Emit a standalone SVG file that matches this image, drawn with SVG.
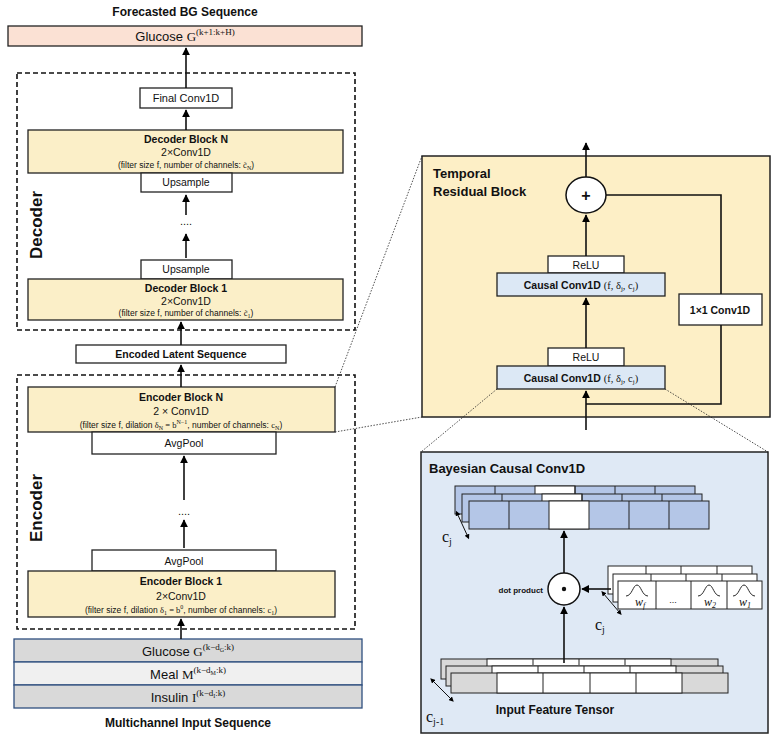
<svg xmlns="http://www.w3.org/2000/svg" width="777" height="737" viewBox="0 0 777 737">
<defs>
<marker id="ah" viewBox="0 0 10 10" refX="9" refY="5" markerWidth="5" markerHeight="5" orient="auto"><path d="M0,0 L10,5 L0,10 z" fill="#000"/></marker>
<marker id="ah2" viewBox="0 0 10 10" refX="5" refY="5" markerWidth="5" markerHeight="5" orient="auto-start-reverse"><path d="M0,0 L10,5 L0,10 z" fill="#000"/></marker>
</defs>
<style>
text{font-family:"Liberation Sans",Arial,sans-serif;fill:#111}
.b{font-weight:bold}
.m{font-family:"Liberation Serif","DejaVu Serif",serif}
.box{fill:#fff;stroke:#222;stroke-width:1.3}
.yel{fill:#fbefc8;stroke:#222;stroke-width:1.3}
.blu{fill:#dce8f5;stroke:#222;stroke-width:1.3}
.dash{fill:none;stroke:#111;stroke-width:1.6;stroke-dasharray:5,3}
.dot{fill:none;stroke:#222;stroke-width:0.8;stroke-dasharray:1.5,1.5}
.ln{fill:none;stroke:#111;stroke-width:1.6}
.ar{fill:none;stroke:#111;stroke-width:1.6;marker-end:url(#ah)}
.cell{stroke:#222;stroke-width:1}
</style>

<text x="185" y="16" class="b" font-size="12" text-anchor="middle">Forecasted BG Sequence</text>
<g id="output"><rect x="8" y="26" width="354" height="20" fill="#fbe1d4" stroke="#222" stroke-width="1.3"/>
<text x="185" y="41" font-size="13" text-anchor="middle">Glucose <tspan class="m">G</tspan><tspan class="m" font-size="9" dy="-6">(k+1:k+H)</tspan></text></g>

<rect x="17" y="73" width="338" height="257" class="dash"/>
<text transform="translate(42,225) rotate(-90)" class="b" font-size="17" text-anchor="middle">Decoder</text>
<g id="finalconv"><rect x="140" y="88" width="92" height="20" class="box"/><text x="186" y="102" font-size="11" text-anchor="middle">Final Conv1D</text></g>
<g id="decN"><rect x="28" y="130" width="315" height="43" class="yel"/>
<text x="186" y="143" class="b" font-size="10.5" text-anchor="middle">Decoder Block N</text>
<text x="186" y="156" font-size="10.5" text-anchor="middle">2×Conv1D</text>
<text x="186" y="168" font-size="8.5" text-anchor="middle">(filter size f, number of channels: <tspan class="m">c̃</tspan><tspan class="m" font-size="6" dy="2">N</tspan><tspan dy="-2">)</tspan></text></g>
<g id="upN"><rect x="141" y="173" width="91" height="19" class="box"/><text x="186" y="186" font-size="10.5" text-anchor="middle">Upsample</text></g>
<text x="186" y="225" font-size="11" text-anchor="middle">....</text>
<g id="up1"><rect x="141" y="260" width="91" height="19" class="box"/><text x="186" y="273" font-size="10.5" text-anchor="middle">Upsample</text></g>
<g id="dec1"><rect x="28" y="279" width="315" height="41" class="yel"/>
<text x="186" y="292" class="b" font-size="10.5" text-anchor="middle">Decoder Block 1</text>
<text x="186" y="305" font-size="10.5" text-anchor="middle">2×Conv1D</text>
<text x="186" y="316" font-size="8.5" text-anchor="middle">(filter size f, number of channels: <tspan class="m">c̃</tspan><tspan class="m" font-size="6" dy="2">1</tspan><tspan dy="-2">)</tspan></text></g>

<g id="latent"><rect x="76" y="345" width="210" height="18" class="box"/><text x="181" y="358" class="b" font-size="10.5" text-anchor="middle">Encoded Latent Sequence</text></g>

<rect x="17" y="375" width="338" height="254" class="dash"/>
<text transform="translate(42,508) rotate(-90)" class="b" font-size="17" text-anchor="middle">Encoder</text>
<g id="encN"><rect x="28" y="387" width="307" height="45" class="yel"/>
<text x="181" y="401" class="b" font-size="10.5" text-anchor="middle">Encoder Block N</text>
<text x="181" y="415" font-size="10.5" text-anchor="middle">2 × Conv1D</text>
<text x="181" y="428" font-size="8.5" text-anchor="middle">(filter size f, dilation <tspan class="m">δ</tspan><tspan class="m" font-size="6" dy="2">N</tspan><tspan class="m" dy="-2"> = b</tspan><tspan class="m" font-size="6" dy="-4">N−1</tspan><tspan dy="4">, number of channels: </tspan><tspan class="m">c</tspan><tspan class="m" font-size="6" dy="2">N</tspan><tspan dy="-2">)</tspan></text></g>
<g id="poolN"><rect x="92" y="432" width="184" height="22" class="box"/><text x="184" y="447" font-size="10.5" text-anchor="middle">AvgPool</text></g>
<text x="184" y="515" font-size="11" text-anchor="middle">....</text>
<g id="pool1"><rect x="92" y="550" width="184" height="21" class="box"/><text x="184" y="565" font-size="10.5" text-anchor="middle">AvgPool</text></g>
<g id="enc1"><rect x="28" y="571" width="307" height="46" class="yel"/>
<text x="181" y="585" class="b" font-size="10.5" text-anchor="middle">Encoder Block 1</text>
<text x="181" y="600" font-size="10.5" text-anchor="middle">2×Conv1D</text>
<text x="181" y="613" font-size="8.5" text-anchor="middle">(filter size f, dilation <tspan class="m">δ</tspan><tspan class="m" font-size="6" dy="2">1</tspan><tspan class="m" dy="-2"> = b</tspan><tspan class="m" font-size="6" dy="-4">0</tspan><tspan dy="4">, number of channels: </tspan><tspan class="m">c</tspan><tspan class="m" font-size="6" dy="2">1</tspan><tspan dy="-2">)</tspan></text></g>

<g id="input">
<rect x="14" y="639" width="348" height="23" fill="#d9d9d9" stroke="#2f4f7f" stroke-width="1.3"/>
<rect x="14" y="662" width="348" height="23" fill="#f0f0f0" stroke="#2f4f7f" stroke-width="1.3"/>
<rect x="14" y="685" width="348" height="23" fill="#d9d9d9" stroke="#2f4f7f" stroke-width="1.3"/>
<text x="188" y="656" font-size="13" text-anchor="middle">Glucose <tspan class="m">G</tspan><tspan class="m" font-size="9" dy="-6">(k−d</tspan><tspan class="m" font-size="6" dy="2">G</tspan><tspan class="m" font-size="9" dy="-2">:k)</tspan></text>
<text x="188" y="679" font-size="13" text-anchor="middle">Meal <tspan class="m">M</tspan><tspan class="m" font-size="9" dy="-6">(k−d</tspan><tspan class="m" font-size="6" dy="2">M</tspan><tspan class="m" font-size="9" dy="-2">:k)</tspan></text>
<text x="188" y="702" font-size="13" text-anchor="middle">Insulin <tspan class="m">I</tspan><tspan class="m" font-size="9" dy="-6">(k−d</tspan><tspan class="m" font-size="6" dy="2">I</tspan><tspan class="m" font-size="9" dy="-2">:k)</tspan></text>
</g>
<text x="188" y="727" class="b" font-size="12" text-anchor="middle">Multichannel Input Sequence</text>

<g id="trb">
<rect x="422" y="156" width="348" height="261" fill="#fdefc6" stroke="#222" stroke-width="1.5"/>
<text x="433" y="178" class="b" font-size="13">Temporal</text>
<text x="433" y="196" class="b" font-size="13">Residual Block</text>
<ellipse cx="586" cy="195" rx="20" ry="18" fill="#fff" stroke="#111" stroke-width="1.5"/>
<text x="586" y="201" class="b" font-size="16" text-anchor="middle">+</text>
<rect x="548" y="256" width="76" height="17" class="box"/><text x="586" y="269" font-size="10.5" text-anchor="middle">ReLU</text>
<rect x="497" y="273" width="168" height="23" class="blu"/><text x="581" y="289" font-size="10.5" text-anchor="middle"><tspan class="b">Causal Conv1D </tspan><tspan class="m">(f,  δ</tspan><tspan class="m" font-size="7" dy="2">j</tspan><tspan class="m" dy="-2">, c</tspan><tspan class="m" font-size="7" dy="2">j</tspan><tspan class="m" dy="-2">)</tspan></text>
<rect x="548" y="348" width="76" height="18" class="box"/><text x="586" y="361" font-size="10.5" text-anchor="middle">ReLU</text>
<rect x="497" y="366" width="168" height="23" class="blu"/><text x="581" y="382" font-size="10.5" text-anchor="middle"><tspan class="b">Causal Conv1D </tspan><tspan class="m">(f,  δ</tspan><tspan class="m" font-size="7" dy="2">j</tspan><tspan class="m" dy="-2">, c</tspan><tspan class="m" font-size="7" dy="2">j</tspan><tspan class="m" dy="-2">)</tspan></text>
<rect x="679" y="294" width="83" height="31" class="box"/><text x="720" y="314" class="b" font-size="10.5" text-anchor="middle">1×1 Conv1D</text>
</g>

<g id="bayes">
<rect x="421" y="452" width="347" height="281" fill="#dfe9f5" stroke="#222" stroke-width="1.5"/>
<text x="429" y="473" class="b" font-size="13">Bayesian Causal Conv1D</text>
<!-- output tensor -->
<g class="cell">
<rect x="455" y="486" width="240" height="28" fill="#b4c6e7"/><rect x="535" y="486" width="40" height="28" fill="#fff"/>
<path d="M495,486v8M575,486v8M615,486v8M655,486v8" />
<rect x="462" y="494" width="240" height="28" fill="#b4c6e7"/><rect x="542" y="494" width="40" height="28" fill="#fff"/>
<path d="M502,494v7M582,494v7M622,494v7M662,494v7"/>
<rect x="469" y="501" width="240" height="28" fill="#b4c6e7"/><rect x="549" y="501" width="40" height="28" fill="#fff"/>
<path d="M509,501v28M629,501v28M669,501v28"/>
</g>
<line x1="457" y1="513" x2="468" y2="537" stroke="#111" stroke-width="1" marker-start="url(#ah2)" marker-end="url(#ah2)"/>
<text x="442" y="542" class="m" font-size="16">c<tspan font-size="10" dy="3">j</tspan></text>
<!-- dot -->
<circle cx="564" cy="589" r="16" fill="#fff" stroke="#111" stroke-width="1.5"/>
<circle cx="564" cy="589" r="2.2" fill="#111"/>
<text x="543" y="593" class="b" font-size="8" text-anchor="end">dot product</text>
<!-- weights -->
<g class="cell">
<rect x="608" y="566" width="144" height="28" fill="#fff"/>
<rect x="613" y="574" width="144" height="28" fill="#fff"/>
<rect x="618" y="581" width="144" height="28" fill="#fff"/>
<path d="M656,581v28M691,581v28M727,581v28M651,574v7M686,574v7M722,574v7M646,566v8M681,566v8M717,566v8"/>
</g>
<g fill="none" stroke="#111" stroke-width="0.9">
<path d="M626,596 C632,596 633,585 637,585 C641,585 642,596 648,596"/>
<path d="M698,596 C704,596 705,585 709,585 C713,585 714,596 720,596"/>
<path d="M733,596 C739,596 740,585 744,585 C748,585 749,596 755,596"/>
</g>
<text x="640" y="606" class="m" font-style="italic" font-size="12" text-anchor="middle">w<tspan font-size="8" dy="2">f</tspan></text>
<text x="673" y="603" font-size="9" text-anchor="middle">...</text>
<text x="710" y="606" class="m" font-style="italic" font-size="12" text-anchor="middle">w<tspan font-size="8" dy="2">2</tspan></text>
<text x="745" y="606" class="m" font-style="italic" font-size="12" text-anchor="middle">w<tspan font-size="8" dy="2">1</tspan></text>
<line x1="603" y1="593" x2="620" y2="613" stroke="#111" stroke-width="1" marker-start="url(#ah2)" marker-end="url(#ah2)"/>
<text x="595" y="630" class="m" font-size="16">c<tspan font-size="10" dy="3">j</tspan></text>
<!-- input tensor -->
<g class="cell">
<rect x="441" y="659" width="277" height="20" fill="#d9d9d9"/><rect x="487" y="659" width="184" height="20" fill="#fff"/>
<path d="M533,659v6M579,659v6M625,659v6"/>
<rect x="446" y="666" width="277" height="20" fill="#d9d9d9"/><rect x="492" y="666" width="184" height="20" fill="#fff"/>
<path d="M538,666v7M584,666v7M630,666v7"/>
<rect x="451" y="673" width="277" height="20" fill="#d9d9d9"/><rect x="497" y="673" width="185" height="20" fill="#fff"/>
<path d="M543,673v20M590,673v20M636,673v20"/>
</g>
<line x1="432" y1="680" x2="452" y2="700" stroke="#111" stroke-width="1" marker-start="url(#ah2)" marker-end="url(#ah2)"/>
<text x="426" y="722" class="m" font-size="16">c<tspan font-size="10" dy="3">j-1</tspan></text>
<text x="555" y="714" class="b" font-size="12" text-anchor="middle">Input Feature Tensor</text>
</g>

<g id="connectors">
<line x1="186" y1="88" x2="186" y2="48" class="ar"/>
<line x1="186" y1="130" x2="186" y2="110" class="ar"/>
<line x1="186" y1="215" x2="186" y2="195" class="ar"/>
<line x1="186" y1="258" x2="186" y2="234" class="ar"/>
<line x1="181" y1="345" x2="181" y2="322" class="ar"/>
<line x1="181" y1="387" x2="181" y2="365" class="ar"/>
<line x1="184" y1="500" x2="184" y2="456" class="ar"/>
<line x1="184" y1="548" x2="184" y2="520" class="ar"/>
<line x1="181" y1="639" x2="181" y2="619" class="ar"/>
<line x1="586" y1="177" x2="586" y2="143" class="ar"/>
<line x1="586" y1="256" x2="586" y2="215" class="ar"/>
<line x1="586" y1="348" x2="586" y2="298" class="ar"/>
<line x1="586" y1="430" x2="586" y2="391" class="ar"/>
<polyline points="606,195 721,195 721,294" class="ln"/>
<polyline points="721,325 721,404 586,404" class="ln"/>
<line x1="564" y1="663" x2="564" y2="607" class="ar"/>
<line x1="564" y1="573" x2="564" y2="531" class="ar"/>
<line x1="611" y1="589" x2="582" y2="589" class="ar"/>
<line x1="335" y1="387" x2="422" y2="156" class="dot"/>
<line x1="335" y1="432" x2="422" y2="417" class="dot"/>
<line x1="497" y1="389" x2="421" y2="452" class="dot"/>
<line x1="665" y1="389" x2="768" y2="452" class="dot"/>
</g>
</svg>
